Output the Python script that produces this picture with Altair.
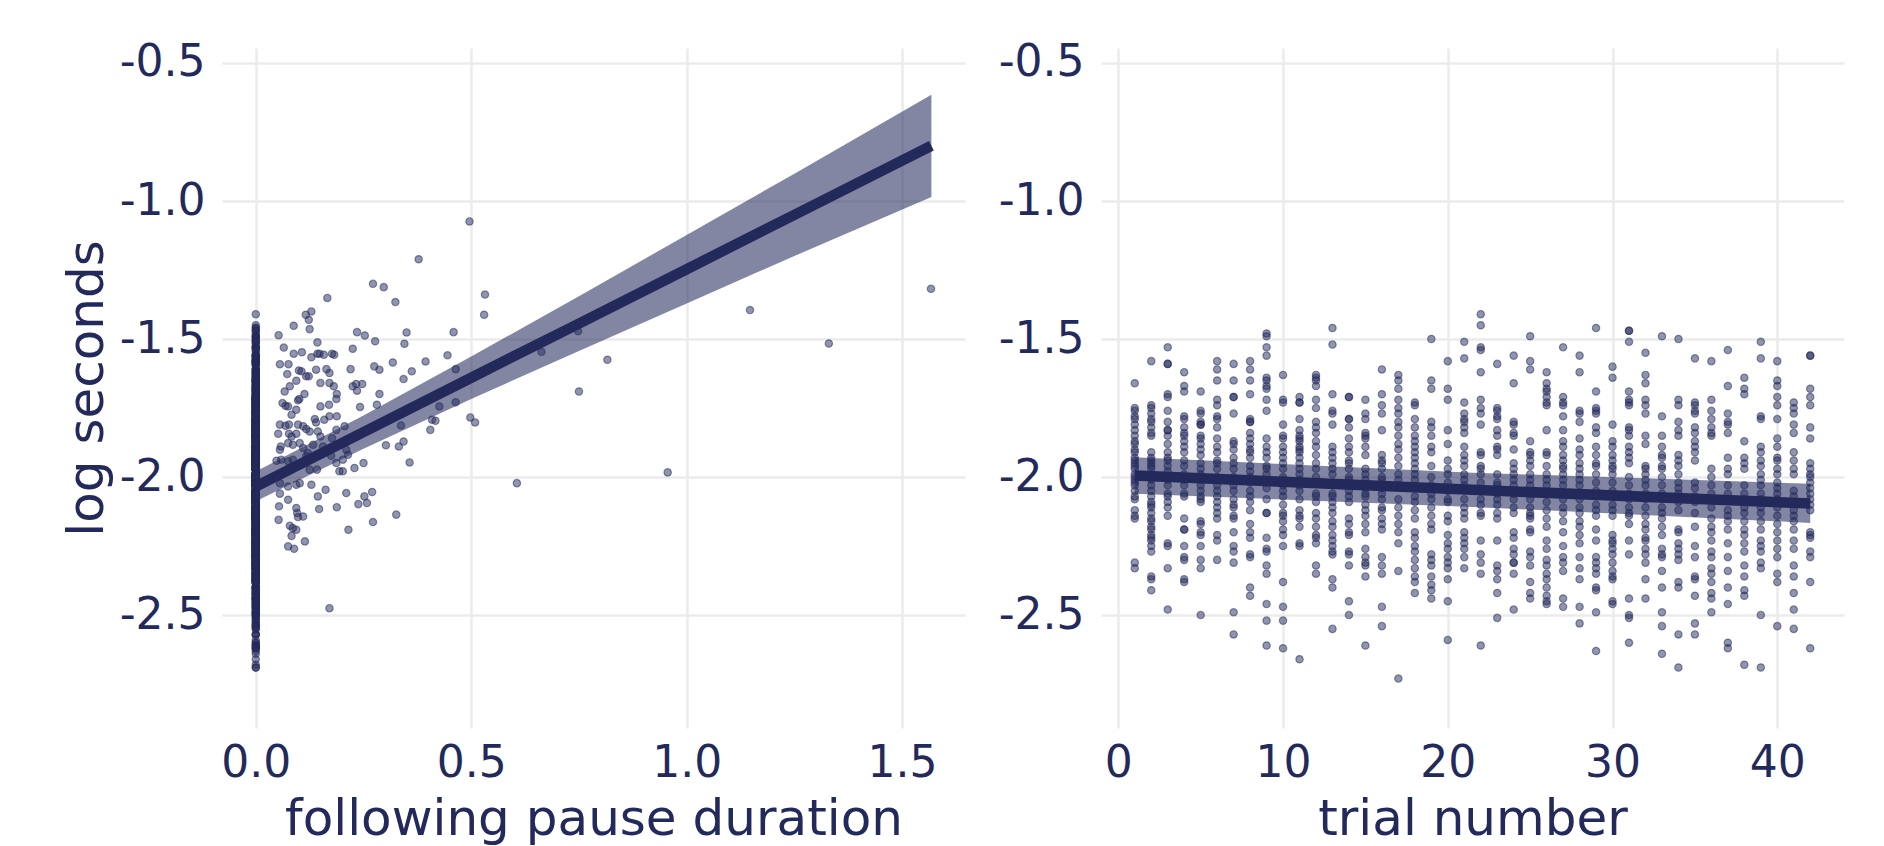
import altair as alt
import pandas as pd

NAVY = "#232a5b"
GRID = "#ebebeb"
FONT = "DejaVu Sans"

# ---- right panel: log seconds by trial number (read per trial) ----
t01 = [-1.66, -1.75, -1.76, -1.78, -1.79, -1.81, -1.83, -1.85, -1.87, -1.88, -1.90, -1.91, -1.93, -1.94, -1.95, -1.96, -1.97, -1.99, -2.00, -2.01, -2.02, -2.03, -2.05, -2.07, -2.08, -2.12, -2.14, -2.15, -2.31, -2.33]
t02 = [-1.58, -1.74, -1.75, -1.77, -1.79, -1.80, -1.82, -1.84, -1.85, -1.91, -1.93, -1.94, -1.95, -1.96, -1.97, -1.99, -2.00, -2.01, -2.03, -2.05, -2.07, -2.09, -2.10, -2.11, -2.13, -2.15, -2.16, -2.18, -2.19, -2.21, -2.22, -2.23, -2.25, -2.27, -2.36, -2.37, -2.41]
t03 = [-1.53, -1.59, -1.59, -1.70, -1.71, -1.76, -1.80, -1.83, -1.83, -1.85, -1.88, -1.91, -1.93, -1.94, -1.96, -1.98, -2.00, -2.01, -2.03, -2.06, -2.07, -2.09, -2.11, -2.14, -2.24, -2.25, -2.33, -2.48]
t04 = [-1.62, -1.67, -1.69, -1.78, -1.79, -1.82, -1.84, -1.85, -1.87, -1.89, -1.91, -1.94, -1.96, -1.99, -2.01, -2.03, -2.06, -2.07, -2.15, -2.19, -2.19, -2.25, -2.29, -2.30, -2.37, -2.38]
t05 = [-1.69, -1.76, -1.77, -1.80, -1.81, -1.81, -1.85, -1.86, -1.88, -1.90, -1.92, -1.95, -1.97, -1.99, -2.01, -2.03, -2.05, -2.07, -2.08, -2.09, -2.16, -2.17, -2.20, -2.21, -2.25, -2.30, -2.33, -2.50]
t06 = [-1.58, -1.61, -1.65, -1.72, -1.74, -1.78, -1.79, -1.82, -1.86, -1.89, -1.91, -1.94, -1.95, -1.97, -2.00, -2.01, -2.03, -2.05, -2.07, -2.09, -2.11, -2.13, -2.15, -2.21, -2.23, -2.30]
t07 = [-1.59, -1.65, -1.71, -1.71, -1.77, -1.87, -1.88, -1.90, -1.93, -1.95, -1.97, -2.00, -2.03, -2.05, -2.08, -2.10, -2.11, -2.14, -2.15, -2.20, -2.25, -2.27, -2.31, -2.49, -2.57]
t08 = [-1.58, -1.61, -1.65, -1.70, -1.79, -1.80, -1.80, -1.84, -1.86, -1.88, -1.90, -1.91, -1.93, -1.96, -1.98, -2.00, -2.02, -2.05, -2.07, -2.09, -2.12, -2.17, -2.20, -2.22, -2.28, -2.29, -2.40, -2.43]
t09 = [-1.48, -1.49, -1.53, -1.56, -1.64, -1.65, -1.67, -1.68, -1.72, -1.76, -1.86, -1.89, -1.91, -1.93, -1.96, -1.97, -1.99, -2.02, -2.04, -2.08, -2.13, -2.13, -2.22, -2.26, -2.27, -2.32, -2.35, -2.46, -2.52, -2.61]
t10 = [-1.63, -1.72, -1.73, -1.81, -1.85, -1.86, -1.89, -1.91, -1.93, -1.95, -1.97, -2.00, -2.01, -2.03, -2.05, -2.07, -2.10, -2.13, -2.14, -2.16, -2.19, -2.21, -2.25, -2.38, -2.47, -2.52, -2.62]
t11 = [-1.71, -1.73, -1.73, -1.79, -1.83, -1.85, -1.86, -1.87, -1.89, -1.90, -1.91, -1.93, -1.95, -1.97, -1.99, -2.01, -2.03, -2.05, -2.08, -2.12, -2.14, -2.15, -2.18, -2.24, -2.25, -2.66]
t12 = [-1.63, -1.64, -1.65, -1.67, -1.72, -1.75, -1.80, -1.82, -1.84, -1.87, -1.89, -1.92, -1.95, -1.97, -2.00, -2.02, -2.06, -2.07, -2.09, -2.13, -2.15, -2.18, -2.21, -2.22, -2.24, -2.32, -2.35]
t13 = [-1.46, -1.52, -1.70, -1.76, -1.77, -1.81, -1.89, -1.91, -1.93, -1.95, -1.97, -1.99, -2.02, -2.03, -2.06, -2.07, -2.09, -2.11, -2.13, -2.16, -2.18, -2.21, -2.23, -2.25, -2.27, -2.28, -2.37, -2.40, -2.55]
t14 = [-1.71, -1.71, -1.79, -1.79, -1.82, -1.86, -1.89, -1.91, -1.94, -1.95, -1.97, -2.00, -2.01, -2.03, -2.05, -2.07, -2.09, -2.15, -2.17, -2.20, -2.21, -2.27, -2.28, -2.32, -2.45, -2.50]
t15 = [-1.72, -1.77, -1.79, -1.84, -1.85, -1.86, -1.89, -1.92, -1.97, -1.99, -2.01, -2.04, -2.06, -2.07, -2.10, -2.12, -2.14, -2.17, -2.20, -2.26, -2.29, -2.31, -2.32, -2.36, -2.61]
t16 = [-1.61, -1.70, -1.74, -1.77, -1.83, -1.92, -1.94, -1.95, -1.97, -2.00, -2.01, -2.04, -2.06, -2.08, -2.11, -2.12, -2.15, -2.17, -2.19, -2.29, -2.32, -2.35, -2.47, -2.54]
t17 = [-1.63, -1.65, -1.68, -1.72, -1.75, -1.77, -1.80, -1.82, -1.85, -1.88, -1.90, -1.93, -1.96, -1.99, -2.01, -2.03, -2.08, -2.11, -2.14, -2.17, -2.20, -2.24, -2.34, -2.73]
t18 = [-1.73, -1.74, -1.79, -1.82, -1.85, -1.87, -1.89, -1.91, -1.93, -1.95, -1.97, -1.99, -2.01, -2.04, -2.07, -2.09, -2.12, -2.15, -2.20, -2.22, -2.25, -2.27, -2.30, -2.33, -2.36, -2.38, -2.42]
t19 = [-1.50, -1.65, -1.68, -1.80, -1.82, -1.85, -1.89, -1.91, -1.96, -2.00, -2.03, -2.06, -2.08, -2.11, -2.14, -2.17, -2.19, -2.28, -2.30, -2.32, -2.36, -2.39, -2.41, -2.44]
t20 = [-1.58, -1.68, -1.72, -1.83, -1.88, -1.94, -1.97, -1.99, -2.02, -2.05, -2.08, -2.09, -2.14, -2.16, -2.21, -2.24, -2.26, -2.29, -2.31, -2.33, -2.37, -2.45, -2.59]
t21 = [-1.51, -1.57, -1.73, -1.77, -1.79, -1.80, -1.82, -1.84, -1.89, -1.92, -1.94, -1.96, -1.99, -2.01, -2.03, -2.08, -2.11, -2.13, -2.15, -2.20, -2.22, -2.24, -2.26, -2.29, -2.33]
t22 = [-1.41, -1.45, -1.53, -1.54, -1.62, -1.72, -1.75, -1.77, -1.81, -1.91, -1.92, -1.96, -1.97, -1.99, -2.02, -2.08, -2.10, -2.13, -2.14, -2.23, -2.28, -2.31, -2.35, -2.61]
t23 = [-1.59, -1.75, -1.76, -1.78, -1.79, -1.83, -1.85, -1.89, -1.90, -1.92, -1.99, -2.02, -2.03, -2.06, -2.08, -2.10, -2.13, -2.15, -2.23, -2.32, -2.34, -2.37, -2.42, -2.51]
t24 = [-1.56, -1.66, -1.80, -1.81, -1.84, -1.85, -1.90, -1.95, -1.97, -1.99, -2.01, -2.03, -2.06, -2.08, -2.11, -2.13, -2.20, -2.22, -2.26, -2.28, -2.31, -2.31, -2.35, -2.48]
t25 = [-1.49, -1.58, -1.61, -1.87, -1.91, -1.92, -1.94, -1.96, -1.99, -2.01, -2.03, -2.06, -2.08, -2.11, -2.13, -2.14, -2.15, -2.19, -2.20, -2.27, -2.29, -2.32, -2.38, -2.42, -2.44]
t26 = [-1.62, -1.66, -1.68, -1.69, -1.71, -1.73, -1.74, -1.83, -1.91, -1.92, -1.96, -1.99, -2.01, -2.03, -2.06, -2.09, -2.12, -2.15, -2.18, -2.23, -2.26, -2.30, -2.32, -2.35, -2.37, -2.40, -2.43, -2.45, -2.46]
t27 = [-1.53, -1.71, -1.73, -1.74, -1.78, -1.83, -1.87, -1.89, -1.92, -1.94, -1.96, -1.97, -1.99, -2.01, -2.03, -2.06, -2.08, -2.11, -2.13, -2.16, -2.20, -2.25, -2.29, -2.31, -2.34, -2.44, -2.47]
t28 = [-1.56, -1.62, -1.76, -1.77, -1.80, -1.86, -1.90, -1.92, -1.95, -1.97, -1.99, -2.01, -2.03, -2.06, -2.08, -2.11, -2.13, -2.16, -2.18, -2.21, -2.24, -2.29, -2.33, -2.37, -2.47, -2.53]
t29 = [-1.46, -1.69, -1.75, -1.76, -1.77, -1.82, -1.84, -1.89, -1.92, -1.95, -1.96, -1.99, -2.02, -2.05, -2.07, -2.10, -2.12, -2.14, -2.19, -2.23, -2.29, -2.31, -2.33, -2.35, -2.40, -2.41, -2.49, -2.63]
t30 = [-1.60, -1.64, -1.81, -1.87, -1.89, -1.92, -1.94, -1.96, -1.97, -1.99, -2.02, -2.05, -2.07, -2.10, -2.12, -2.14, -2.21, -2.23, -2.24, -2.26, -2.28, -2.31, -2.34, -2.36, -2.37, -2.45, -2.46]
t31 = [-1.47, -1.47, -1.51, -1.69, -1.72, -1.73, -1.74, -1.82, -1.83, -1.85, -1.89, -1.91, -1.93, -1.95, -2.00, -2.03, -2.06, -2.08, -2.11, -2.13, -2.14, -2.17, -2.23, -2.28, -2.44, -2.50, -2.51, -2.60]
t32 = [-1.55, -1.63, -1.66, -1.72, -1.74, -1.77, -1.85, -1.88, -1.96, -1.97, -1.99, -2.01, -2.03, -2.06, -2.08, -2.11, -2.14, -2.17, -2.19, -2.22, -2.23, -2.26, -2.28, -2.31, -2.37, -2.44]
t33 = [-1.49, -1.78, -1.85, -1.89, -1.92, -1.93, -1.96, -1.97, -2.00, -2.03, -2.06, -2.08, -2.11, -2.13, -2.15, -2.18, -2.21, -2.26, -2.28, -2.29, -2.34, -2.40, -2.49, -2.54, -2.64]
t34 = [-1.50, -1.72, -1.74, -1.80, -1.83, -1.85, -1.92, -1.94, -1.96, -1.99, -2.02, -2.04, -2.06, -2.09, -2.12, -2.19, -2.20, -2.24, -2.26, -2.28, -2.30, -2.38, -2.40, -2.57, -2.69]
t35 = [-1.57, -1.73, -1.74, -1.76, -1.77, -1.82, -1.84, -1.87, -1.89, -1.91, -1.94, -2.02, -2.04, -2.07, -2.09, -2.13, -2.18, -2.25, -2.29, -2.36, -2.37, -2.43, -2.53, -2.57]
t36 = [-1.58, -1.72, -1.76, -1.79, -1.82, -1.84, -1.85, -1.97, -2.00, -2.03, -2.06, -2.08, -2.11, -2.15, -2.18, -2.20, -2.23, -2.27, -2.29, -2.33, -2.35, -2.38, -2.42, -2.44, -2.49]
t37 = [-1.54, -1.67, -1.77, -1.80, -1.81, -1.84, -1.93, -1.97, -1.99, -2.03, -2.06, -2.08, -2.12, -2.14, -2.16, -2.19, -2.24, -2.29, -2.34, -2.40, -2.46, -2.60, -2.62]
t38 = [-1.64, -1.68, -1.70, -1.87, -1.93, -1.95, -1.97, -2.03, -2.06, -2.08, -2.11, -2.13, -2.16, -2.19, -2.21, -2.24, -2.27, -2.32, -2.36, -2.41, -2.43, -2.68]
t39 = [-1.51, -1.57, -1.78, -1.79, -1.89, -1.91, -1.94, -1.96, -1.99, -2.01, -2.03, -2.06, -2.08, -2.11, -2.13, -2.16, -2.19, -2.23, -2.25, -2.27, -2.31, -2.33, -2.50, -2.69]
t40 = [-1.58, -1.65, -1.67, -1.71, -1.74, -1.79, -1.86, -1.89, -1.93, -1.94, -1.97, -1.99, -2.02, -2.04, -2.06, -2.08, -2.11, -2.14, -2.17, -2.20, -2.23, -2.26, -2.29, -2.35, -2.38, -2.54]
t41 = [-1.73, -1.75, -1.77, -1.81, -1.84, -1.91, -1.94, -1.97, -1.99, -2.05, -2.07, -2.09, -2.12, -2.14, -2.16, -2.19, -2.23, -2.26, -2.32, -2.36, -2.42, -2.48, -2.55]
t42 = [-1.56, -1.56, -1.68, -1.71, -1.74, -1.82, -1.86, -1.95, -1.97, -1.99, -2.00, -2.02, -2.04, -2.06, -2.08, -2.10, -2.12, -2.20, -2.21, -2.22, -2.27, -2.29, -2.38, -2.62]

trials = [t01, t02, t03, t04, t05, t06, t07, t08, t09, t10, t11, t12, t13, t14,
          t15, t16, t17, t18, t19, t20, t21, t22, t23, t24, t25, t26, t27, t28,
          t29, t30, t31, t32, t33, t34, t35, t36, t37, t38, t39, t40, t41, t42]

# ---- left panel: observations with a following pause > 0 ----
pause_x = [0.166, 0.272, 0.297, 0.324, 0.532, 0.530, 0.129, 0.116, 0.123, 0.088,
           0.053, 0.125, 0.235, 0.253, 0.350, 0.459, 0.277, 0.143, 0.345, 0.225,
           0.065, 0.088, 0.107, 0.143, 0.148, 0.158, 0.177, 0.182, 0.129, 0.445,
           0.056, 0.076, 0.318, 0.394, 0.663, 0.748, 0.816, 0.750, 0.275, 0.287,
           0.220, 0.100, 0.106, 0.140, 0.164, 0.171, 0.362, 0.464, 0.343, 0.073,
           0.094, 0.117, 0.123, 0.150, 0.171, 0.181, 0.188, 0.187, 0.079, 0.067,
           0.113, 0.098, 0.101, 0.225, 0.233, 0.247, 0.235, 0.287, 0.281, 0.242,
           0.062, 0.069, 0.075, 0.083, 0.150, 0.170, 0.171, 0.188, 0.094, 0.426,
           0.464, 0.409, 0.417, 0.405, 0.498, 0.509, 0.337, 0.137, 0.140, 0.159,
           0.056, 0.069, 0.077, 0.098, 0.110, 0.117, 0.206, 0.052, 0.077, 0.083,
           0.094, 0.125, 0.144, 0.150, 0.177, 0.187, 0.058, 0.056, 0.075, 0.086,
           0.102, 0.110, 0.121, 0.133, 0.156, 0.210, 0.214, 0.302, 0.332, 0.343,
           0.048, 0.059, 0.075, 0.086, 0.098, 0.117, 0.125, 0.142, 0.175, 0.187,
           0.194, 0.202, 0.202, 0.229, 0.250, 0.357, 0.606, 0.956, 0.056, 0.075,
           0.094, 0.102, 0.129, 0.162, 0.144, 0.210, 0.075, 0.056, 0.054, 0.094,
           0.096, 0.098, 0.110, 0.147, 0.188, 0.238, 0.258, 0.252, 0.270, 0.326,
           0.053, 0.272, 0.079, 0.086, 0.094, 0.215, 0.083, 0.114, 0.075, 0.089,
           0.171, 0.496, 0.378, 1.147, 1.567, 1.330]
pause_y = [-1.351, -1.300, -1.312, -1.366, -1.339, -1.412, -1.400, -1.412, -1.430, -1.452,
           -1.486, -1.464, -1.475, -1.487, -1.476, -1.475, -1.508, -1.512, -1.517, -1.535,
           -1.531, -1.553, -1.548, -1.553, -1.553, -1.557, -1.553, -1.557, -1.566, -1.559,
           -1.591, -1.591, -1.585, -1.581, -1.546, -1.472, -1.575, -1.690, -1.599, -1.611,
           -1.609, -1.614, -1.617, -1.611, -1.609, -1.623, -1.617, -1.609, -1.645, -1.627,
           -1.651, -1.635, -1.635, -1.659, -1.659, -1.671, -1.699, -1.717, -1.671, -1.690,
           -1.699, -1.722, -1.717, -1.671, -1.663, -1.663, -1.687, -1.699, -1.738, -1.746,
           -1.732, -1.742, -1.744, -1.774, -1.744, -1.738, -1.780, -1.780, -1.756, -1.744,
           -1.729, -1.792, -1.796, -1.829, -1.784, -1.802, -1.813, -1.790, -1.802, -1.792,
           -1.810, -1.814, -1.810, -1.810, -1.816, -1.826, -1.816, -1.843, -1.843, -1.853,
           -1.843, -1.835, -1.835, -1.853, -1.859, -1.829, -1.889, -1.901, -1.877, -1.883,
           -1.877, -1.895, -1.913, -1.883, -1.889, -1.901, -1.919, -1.885, -1.889, -1.871,
           -1.941, -1.937, -1.943, -1.937, -1.955, -1.925, -1.973, -1.973, -1.923, -1.949,
           -1.979, -1.937, -1.979, -1.967, -1.949, -1.947, -2.022, -1.983, -2.022, -2.034,
           -2.028, -2.022, -2.028, -2.046, -2.070, -2.058, -2.082, -2.060, -2.106, -2.112,
           -2.130, -2.145, -2.143, -2.116, -2.109, -2.098, -2.094, -2.070, -2.054, -2.136,
           -2.155, -2.163, -2.176, -2.185, -2.191, -2.191, -2.213, -2.233, -2.251, -2.260,
           -2.475, -1.074, -1.211, -1.395, -1.318, -1.516]

# ---- fitted lines and confidence bands ----
left_fit_x = [0.0, 0.25, 0.5, 0.75, 1.0, 1.25, 1.568]
left_fit_y = [-2.034, -1.837, -1.640, -1.444, -1.247, -1.050, -0.800]
left_fit_lo = [-2.088, -1.897, -1.717, -1.543, -1.371, -1.199, -0.985]
left_fit_hi = [-1.980, -1.777, -1.563, -1.345, -1.123, -0.901, -0.615]

right_fit_x = [1, 21.5, 42]
right_fit_y = [-1.994, -2.046, -2.096]
right_fit_lo = [-2.060, -2.108, -2.166]
right_fit_hi = [-1.928, -1.984, -2.024]

y_ticks = [-2.5, -2.0, -1.5, -1.0, -0.5]
left_x_ticks = [0.0, 0.5, 1.0, 1.5]
right_x_ticks = [0, 10, 20, 30, 40]

Y_DOMAIN = [-2.909, -0.4457]
LEFT_X_DOMAIN = [-0.0784, 1.646]
RIGHT_X_DOMAIN = [-1.05, 44.05]

# ---- tables ----
trial_rows = [(i + 1, v) for i, vals in enumerate(trials) for v in vals]
right_df = pd.DataFrame(trial_rows, columns=["trial", "logsec"])

zero_rows = [(0.0, v) for _, v in trial_rows if v >= -2.69]
left_df = pd.DataFrame(zero_rows + list(zip(pause_x, pause_y)), columns=["pause", "logsec"])

left_fit = pd.DataFrame({"pause": left_fit_x, "fit": left_fit_y,
                         "lo": left_fit_lo, "hi": left_fit_hi})
right_fit = pd.DataFrame({"trial": right_fit_x, "fit": right_fit_y,
                          "lo": right_fit_lo, "hi": right_fit_hi})

Y_LABEL = "(datum.value < 0 ? '-' : '') + format(abs(datum.value), '.1f')"
W, H = 743, 680


def yenc(field, title):
    return alt.Y(f"{field}:Q",
                 scale=alt.Scale(domain=Y_DOMAIN, nice=False, zero=False),
                 axis=alt.Axis(values=y_ticks, labelExpr=Y_LABEL, title=title))


def panel(df, fit, xfield, xdomain, xticks, xlabel, xtitle, ytitle):
    xenc = alt.X(f"{xfield}:Q",
                 scale=alt.Scale(domain=xdomain, nice=False, zero=False),
                 axis=alt.Axis(values=xticks, labelExpr=xlabel, title=xtitle,
                               labelFlush=False))
    pts = alt.Chart(df).mark_circle(
        size=54, fill=NAVY, fillOpacity=0.5,
        stroke=NAVY, strokeOpacity=0.5, strokeWidth=1.2
    ).encode(x=xenc, y=yenc("logsec", ytitle))
    band = alt.Chart(fit).mark_area(color=NAVY, opacity=0.57).encode(
        x=xenc, y=yenc("lo", ytitle), y2="hi:Q")
    line = alt.Chart(fit).mark_line(color=NAVY, strokeWidth=10.5, strokeCap="butt").encode(
        x=xenc, y=yenc("fit", ytitle))
    return alt.layer(pts, band, line).properties(width=W, height=H)


left = panel(left_df, left_fit, "pause", LEFT_X_DOMAIN, left_x_ticks,
             "format(datum.value, '.1f')", "following pause duration", "log seconds")
right = panel(right_df, right_fit, "trial", RIGHT_X_DOMAIN, right_x_ticks,
              "format(datum.value, 'd')", "trial number", "")

chart = alt.hconcat(left, right, spacing=33).properties(
    padding={"left": 62, "top": 40, "right": 10, "bottom": 6}
).configure(font=FONT).configure_view(strokeWidth=0).configure_axis(
    domain=False, ticks=False, grid=True, gridColor=GRID, gridWidth=2.5,
    labelFont=FONT, labelFontSize=44, labelColor=NAVY,
    titleFont=FONT, titleFontSize=50, titleColor=NAVY, titleFontWeight="normal",
).configure_axisX(labelPadding=13, titlePadding=9).configure_axisY(
    labelPadding=17, titlePadding=7)

chart.save("out.html", embed_options={"renderer": "svg", "actions": False})
